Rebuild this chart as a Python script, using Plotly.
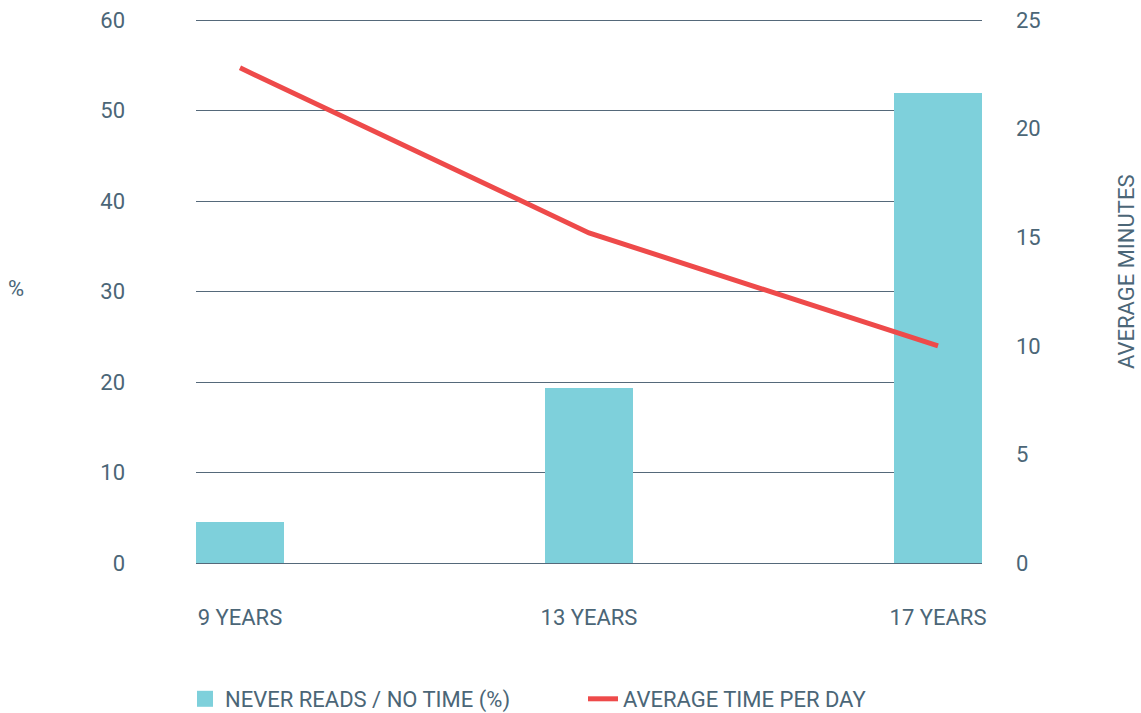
import plotly.graph_objects as go

categories = ["9 YEARS", "13 YEARS", "17 YEARS"]
never_reads_pct = [4.5, 19.3, 51.9]
avg_minutes = [22.8, 15.2, 10.0]
left_ticks = [0, 10, 20, 30, 40, 50, 60]
right_ticks = [0, 5, 10, 15, 20, 25]

TEXT = "#4b6677"
GRID = "#55697a"
TEAL = "#7ed0db"
RED = "#ee4a4a"
FONT = "Roboto, Arial, sans-serif"
FS = 22

W, H = 1141, 713
ML, MR, MT, MB = 196, 159, 11, 150
LEFT_MAX = 61
RIGHT_MAX = 25 * LEFT_MAX / 60

fig = go.Figure()
fig.add_trace(go.Bar(
    x=categories, y=never_reads_pct, name="NEVER READS / NO TIME (%)",
    marker=dict(color=TEAL, line=dict(width=0)), width=0.252, yaxis="y",
    showlegend=False,
))
# legend proxy for the bars (larger square swatch)
fig.add_trace(go.Scatter(
    x=[None], y=[None], name="NEVER READS / NO TIME (%)", mode="markers",
    marker=dict(color=TEAL, symbol="square", size=20),
))
fig.add_trace(go.Scatter(
    x=categories, y=avg_minutes, name="AVERAGE TIME PER DAY",
    mode="lines", line=dict(color=RED, width=5), yaxis="y2",
))

pw, ph = W - ML - MR, H - MT - MB

def px_x(x):
    return (x - ML) / pw

def px_y(y):
    return (H - MB - y) / ph

fig.update_layout(
    width=W, height=H,
    margin=dict(l=ML, r=MR, t=MT, b=MB, autoexpand=False),
    paper_bgcolor="white", plot_bgcolor="white",
    font=dict(family=FONT, size=FS, color=TEXT),
    showlegend=True,
    bargap=0,
    xaxis=dict(
        type="category", range=[-0.126, 2.126],
        showgrid=False, zeroline=False, showline=False,
        ticks="", ticklabelstandoff=39,
        tickfont=dict(size=FS, color=TEXT),
    ),
    yaxis=dict(
        range=[0, LEFT_MAX], tickvals=left_ticks,
        showgrid=True, gridcolor=GRID, gridwidth=1,
        zeroline=True, zerolinecolor=GRID, zerolinewidth=1,
        showline=False, ticks="", ticklabelstandoff=70,
        tickfont=dict(size=FS, color=TEXT),
    ),
    yaxis2=dict(
        range=[0, RIGHT_MAX], tickvals=right_ticks,
        overlaying="y", side="right",
        showgrid=False, zeroline=False, showline=False,
        ticks="", ticklabelstandoff=33,
        tickfont=dict(size=FS, color=TEXT),
    ),
    legend=dict(
        orientation="h", x=px_x(185), xanchor="left",
        y=px_y(699), yanchor="middle",
        font=dict(size=FS, color=TEXT, family=FONT),
        entrywidth=353, entrywidthmode="pixels",
        bgcolor="rgba(0,0,0,0)", itemsizing="trace",
    ),
    annotations=[
        dict(text="%", x=px_x(16), y=px_y(288), xref="paper", yref="paper",
             showarrow=False, xanchor="center", yanchor="middle",
             font=dict(size=FS, color=TEXT)),
        dict(text="AVERAGE MINUTES", textangle=-90, x=px_x(1126), y=px_y(272),
             xref="paper", yref="paper", showarrow=False,
             xanchor="center", yanchor="middle",
             font=dict(size=FS, color=TEXT)),
    ],
)

fig.write_html("out.html", config={"displayModeBar": False},
               post_script="document.body.style.margin='0';")
